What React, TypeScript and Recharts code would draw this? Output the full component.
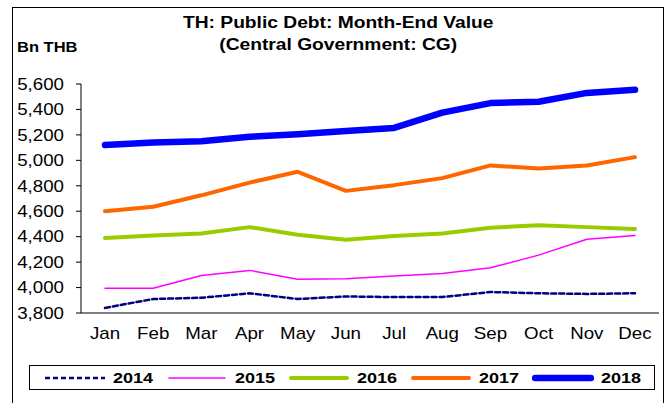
import { LineChart, Line, XAxis, YAxis, Legend } from "recharts";

const MONTHS = ["Jan", "Feb", "Mar", "Apr", "May", "Jun", "Jul", "Aug", "Sep", "Oct", "Nov", "Dec"];
const Y2014 = [3840, 3910, 3920, 3955, 3910, 3930, 3925, 3925, 3965, 3955, 3950, 3955];
const Y2015 = [3995, 3995, 4095, 4135, 4065, 4070, 4090, 4110, 4155, 4255, 4380, 4410];
const Y2016 = [4390, 4410, 4425, 4475, 4415, 4375, 4405, 4425, 4470, 4490, 4475, 4460];
const Y2017 = [4600, 4635, 4725, 4825, 4910, 4760, 4805, 4860, 4960, 4935, 4960, 5025];
const Y2018 = [5120, 5140, 5150, 5185, 5205, 5230, 5255, 5375, 5450, 5460, 5530, 5555];
const Y_TICKS = [3800, 4000, 4200, 4400, 4600, 4800, 5000, 5200, 5400, 5600];
const EDGE_TICKS = [0, 1, 2, 3, 4, 5, 6, 7, 8, 9, 10, 11, 12];

const SERIES = [
  { key: "2014", color: "#000080", width: 2.5, dash: "5 3" },
  { key: "2015", color: "#FF00FF", width: 1.5, dash: undefined },
  { key: "2016", color: "#99CC00", width: 4, dash: undefined },
  { key: "2017", color: "#FF6600", width: 4, dash: undefined },
  { key: "2018", color: "#0000FF", width: 6.5, dash: undefined },
];

const data = MONTHS.map((m, i) => ({
  month: m,
  "2014": Y2014[i],
  "2015": Y2015[i],
  "2016": Y2016[i],
  "2017": Y2017[i],
  "2018": Y2018[i],
}));

const FONT = "Arial, 'Liberation Sans', sans-serif";
// the original picture is stretched sideways a bit, so text gets widened too
const STRETCH = 1.17;

function YTick(props: any) {
  const { x, y, payload } = props;
  return (
    <g transform={`translate(${x},${y})`}>
      <text transform={`scale(${STRETCH},1)`} textAnchor="end" dy="0.36em" fontSize={16} fill="#000" fontFamily={FONT}>
        {Number(payload.value).toLocaleString("en-US")}
      </text>
    </g>
  );
}

function XTick(props: any) {
  const { x, y, payload } = props;
  return (
    <g transform={`translate(${x},${y})`}>
      <text transform={`scale(${STRETCH},1)`} textAnchor="middle" dy="0.71em" fontSize={16} fill="#000" fontFamily={FONT}>
        {payload.value}
      </text>
    </g>
  );
}

function LegendBox() {
  return (
    <div
      style={{
        border: "1px solid #000",
        height: 23,
        display: "flex",
        alignItems: "center",
        paddingLeft: 14,
        fontFamily: FONT,
        fontWeight: "bold",
        fontSize: 15,
        color: "#000",
      }}
    >
      {SERIES.map((s) => (
        <div key={s.key} style={{ display: "flex", alignItems: "center", width: 122, flex: "none" }}>
          <svg width={62} height={10} style={{ marginRight: 7 }}>
            <line
              x1={s.dash ? 1 : 3}
              y1={5}
              x2={s.dash ? 61 : 59}
              y2={5}
              stroke={s.color}
              strokeWidth={s.width}
              strokeDasharray={s.dash}
              strokeLinecap={s.dash ? "butt" : "round"}
            />
          </svg>
          <span style={{ display: "inline-block", transform: "scale(1.2,1)", transformOrigin: "left center" }}>{s.key}</span>
        </div>
      ))}
    </div>
  );
}

export default function App() {
  return (
    <div style={{ position: "absolute", left: 0, top: 0, width: 669, height: 403, background: "#fff", overflow: "hidden" }}>
      <div
        style={{
          position: "absolute",
          left: 12,
          top: 7,
          width: 650,
          height: 410,
          border: "1px solid #000",
        }}
      />
      <div
        style={{
          position: "absolute",
          left: 12,
          width: 657,
          top: 12,
          textAlign: "center",
          fontFamily: FONT,
          fontWeight: "bold",
          fontSize: 16,
          lineHeight: "22px",
          transform: "scale(1.2,1)",
          transformOrigin: "340px 0",
        }}
      >
        TH: Public Debt: Month-End Value
        <br />
        (Central Government: CG)
      </div>
      <div
        style={{
          position: "absolute",
          left: 17,
          top: 38,
          fontFamily: FONT,
          fontWeight: "bold",
          fontSize: 15,
          transform: "scale(1.1,1)",
          transformOrigin: "left top",
        }}
      >
        Bn THB
      </div>
      <LineChart width={669} height={403} data={data} margin={{ top: 84, right: 10, left: 12, bottom: 60 }}>
        <XAxis
          xAxisId="edges"
          type="number"
          domain={[0, 12]}
          ticks={EDGE_TICKS}
          tick={false}
          height={0}
          axisLine={false}
          tickLine={{ stroke: "#000" }}
          tickSize={5}
        />
        <XAxis
          dataKey="month"
          height={30}
          padding={{ left: 24, right: 24 }}
          axisLine={{ stroke: "#000" }}
          tickLine={false}
          tickMargin={9}
          tick={<XTick />}
          interval={0}
        />
        <YAxis
          width={69}
          domain={[3800, 5600]}
          ticks={Y_TICKS}
          interval={0}
          axisLine={{ stroke: "#000" }}
          tickLine={{ stroke: "#000" }}
          tickSize={5}
          tickMargin={12}
          tick={<YTick />}
        />
        <Legend
          layout="horizontal"
          verticalAlign="middle"
          align="center"
          wrapperStyle={{ top: 365, left: 29, width: 626 }}
          content={() => <LegendBox />}
        />
        {SERIES.map((s) => (
          <Line
            key={s.key}
            dataKey={s.key}
            stroke={s.color}
            strokeWidth={s.width}
            strokeDasharray={s.dash}
            dot={false}
            activeDot={false}
            strokeLinecap="round"
            strokeLinejoin="round"
            isAnimationActive={false}
          />
        ))}
      </LineChart>
    </div>
  );
}
